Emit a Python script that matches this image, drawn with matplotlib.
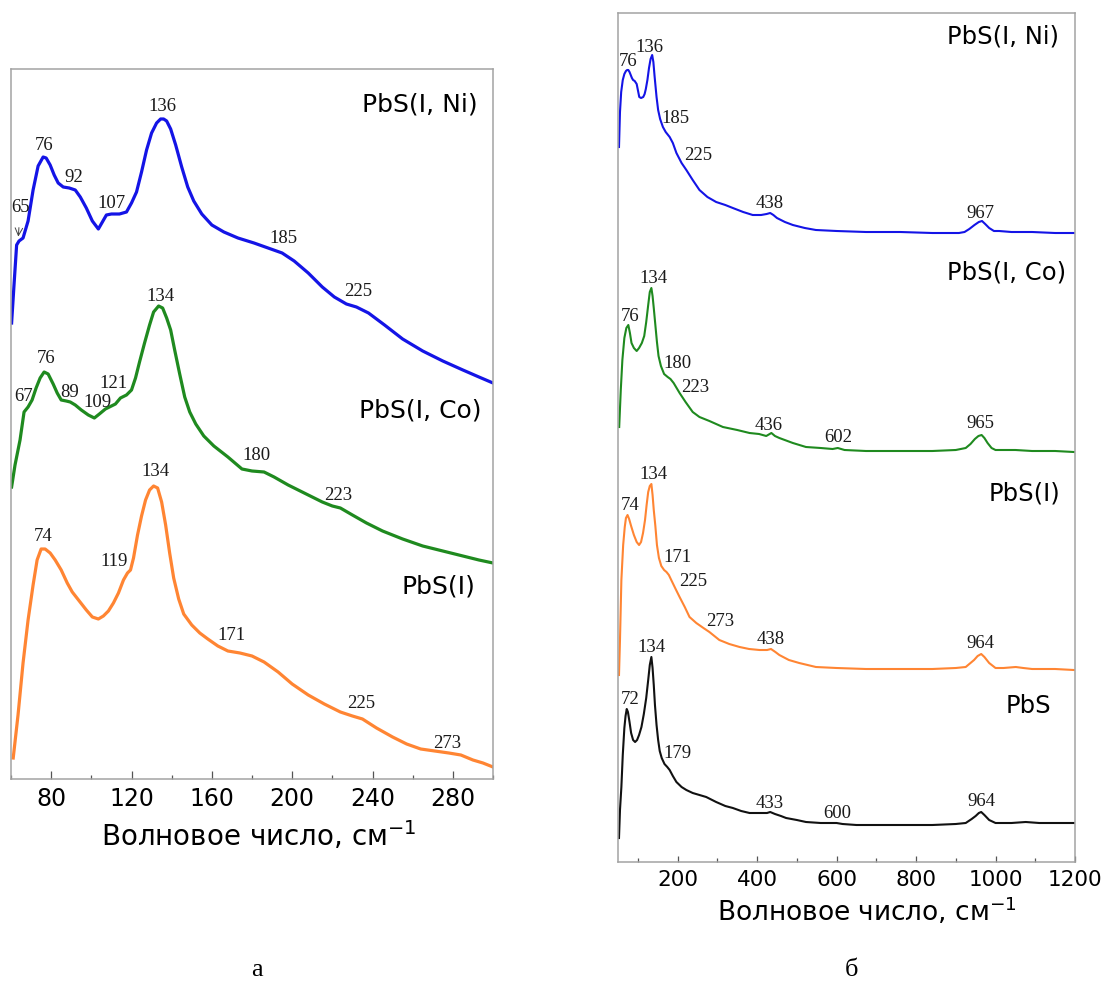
import numpy as np
import matplotlib
matplotlib.use("Agg")
import matplotlib.pyplot as plt
from matplotlib.ticker import MultipleLocator

# ---------------- Panel (а): low-frequency Raman spectra, 60-300 cm^-1 ----------------
ni_a_w = [60.3, 61.5, 62.8, 64.0, 66.0, 68.5, 71.0, 73.5, 76.0, 77.5,
          79.5, 81.5, 83.5, 86.0, 89.0, 92.0, 94.5, 97.5, 100.5, 103.5,
          105.5, 107.5, 110.0, 114.0, 117.5, 120.0, 122.5, 125.0, 127.5, 130.0,
          132.5, 134.5, 136.0, 137.5, 139.5, 142.0, 145.0, 148.0, 151.0, 155.0,
          160.0, 166.0, 173.0, 181.0, 188.0, 195.0, 201.0, 208.0, 215.0, 221.0,
          227.0, 232.0, 238.0, 246.0, 255.0, 265.0, 275.0, 285.0, 293.0, 300.0]
ni_a_i = [456, 494, 534, 538, 541, 558, 589, 613, 622, 621,
          614, 604, 596, 592, 591, 589, 582, 571, 558, 550,
          557, 564, 565, 565, 567, 576, 587, 607, 629, 646,
          656, 660, 660, 658, 650, 634, 612, 592, 578, 565,
          554, 547, 541, 536, 531, 526, 518, 506, 492, 482,
          475, 472, 466, 454, 440, 428, 418, 409, 402, 396]

co_a_w = [60.3, 62, 64.5, 66.5, 68.5, 70.5, 72.5, 74.5, 76.5, 78.5,
          81, 83, 85, 87.5, 89.5, 92, 95, 98.5, 101.5, 104,
          107, 110, 112, 114.5, 117.5, 120, 122, 124, 126.5, 129,
          131, 133.5, 135.5, 137.5, 139.5, 141.5, 144, 146.5, 149, 152,
          156, 161, 168, 175, 180, 186, 191, 198, 207, 215,
          220, 224, 230, 237, 245, 255, 265, 275, 285, 293, 300]
co_a_i = [292, 314, 339, 367, 372, 379, 391, 401, 407, 405,
          395, 386, 379, 378, 377, 374, 369, 364, 361, 365,
          370, 373, 375, 381, 384, 389, 401, 417, 436, 454,
          467, 473, 471, 461, 449, 429, 405, 382, 367, 355,
          343, 333, 322, 310, 308, 307, 302, 294, 285, 277,
          273, 271, 264, 256, 248, 240, 233, 228, 223, 219, 216]

i_a_w = [61.1, 63.5, 66, 68.5, 71, 73, 75, 77, 79.5, 82,
         85, 88, 90.5, 94, 97.5, 100.5, 103.5, 106, 108.5, 111,
         113.5, 116, 118, 119.5, 121, 123, 125, 127, 129, 131,
         133, 135, 137, 139, 141, 143.5, 146, 150, 154, 158,
         163, 168, 174, 180, 186, 193, 200, 208, 216, 224,
         230, 235, 242, 250, 257, 264, 271, 278, 284, 290, 295, 300]
i_a_i = [21, 64, 116, 159, 194, 219, 230, 230, 226, 219,
         209, 196, 187, 178, 169, 162, 160, 163, 168, 176,
         186, 199, 206, 209, 221, 244, 263, 279, 289, 293,
         291, 277, 254, 226, 201, 180, 165, 154, 146, 140,
         133, 128, 126, 123, 117, 107, 95, 84, 75, 67,
         63, 60, 51, 42, 35, 30, 28, 26, 24, 19, 16, 12]

# peak labels: (value, label x, label y)
ni_a_peaks = [(76, 76.6, 633), (92, 91.4, 601), (107, 110.1, 575),
              (136, 135.3, 672), (185, 195.6, 540), (225, 232.9, 487)]
co_a_peaks = [(67, 66.1, 382), (76, 77.4, 420), (89, 89.4, 386), (109, 103.0, 376),
              (121, 110.9, 395), (134, 134.5, 482), (180, 182.3, 323), (223, 223.0, 283)]
i_a_peaks = [(74, 75.8, 242), (119, 111.3, 217), (134, 131.7, 307),
             (171, 169.9, 143), (225, 234.3, 76), (273, 277.0, 36)]

# ---------------- Panel (б): full Raman spectra, 50-1200 cm^-1 ----------------
ni_b_w = [52.5, 55, 58, 62, 66, 70, 73, 76, 79, 82,
          85, 88, 92, 97, 100, 103.5, 108, 113.5, 117, 120,
          124, 128, 132, 136, 139, 142, 147, 151, 156, 163,
          170, 180, 188, 197, 210, 222, 238, 255, 275, 297,
          320, 339, 365, 389, 410, 424, 433, 441, 450, 470,
          490, 520, 548, 600, 674, 760, 841, 908, 922, 934,
          947, 958, 966, 974, 984, 996, 1009, 1040, 1092, 1150, 1197]
ni_b_i = [715, 750, 770, 782, 788, 791, 792, 792, 790, 787,
          784, 782, 781, 778, 772, 765, 764, 765, 768, 773,
          782, 794, 803, 807, 800, 786, 765, 752, 743, 735,
          730, 725, 719, 709, 699, 692, 682, 672, 665, 660,
          657, 654, 650, 647, 647, 648, 649, 647, 644, 640,
          637, 634, 632, 631, 630, 630, 629, 629, 630, 633,
          637, 640, 641, 638, 634, 631, 631, 630, 630, 629, 629]

co_b_w = [53, 57, 61, 66, 71, 76, 80, 84, 90, 97,
          103, 110, 116, 121, 126, 130, 134, 137, 140, 144,
          148, 152, 158, 166, 175, 182, 190, 205, 220, 238,
          255, 280, 314, 350, 381, 405, 423, 436, 445, 456,
          490, 523, 560, 590, 603, 620, 674, 760, 841, 900,
          925, 937, 948, 957, 965, 972, 980, 990, 1000, 1050,
          1092, 1150, 1197]
co_b_i = [435, 472, 502, 524, 534, 537, 529, 519, 514, 511,
          514, 519, 526, 540, 557, 570, 574, 566, 554, 537,
          520, 506, 496, 488, 485, 483, 479, 469, 460, 450,
          445, 441, 435, 432, 429, 428, 426, 429, 426, 424,
          419, 415, 414, 413, 414, 412, 411, 411, 411, 412,
          414, 418, 423, 426, 427, 424, 419, 414, 412, 412,
          411, 411, 410]

i_b_w = [52.5, 55, 58.5, 63, 67, 70, 74, 78, 83, 90,
         97, 103, 108, 113, 118, 122, 126, 130, 134, 137,
         140, 144, 148, 153, 159, 166, 172, 178, 184, 195,
         205, 218, 230, 247, 265, 280, 305, 330, 356, 380,
         406, 425, 435, 446, 456, 480, 506, 548, 600, 674,
         760, 841, 900, 925, 937, 946, 955, 964, 972, 984,
         1000, 1020, 1051, 1070, 1092, 1150, 1197]
i_b_i = [187, 222, 282, 317, 335, 344, 347, 343, 336, 327,
         320, 317, 320, 329, 342, 357, 370, 376, 378, 367,
         352, 336, 317, 304, 296, 292, 290, 287, 282, 273,
         265, 255, 245, 239, 234, 230, 222, 218, 215, 213,
         212, 212, 213, 210, 207, 202, 199, 195, 194, 193,
         193, 193, 194, 195, 199, 202, 206, 208, 205, 199,
         194, 194, 195, 194, 193, 193, 192]

pbs_b_w = [52.5, 55, 58.5, 62, 66, 69, 72, 75, 79, 83,
           88, 93, 98, 103, 109, 115, 121, 126, 130, 134,
           137, 140, 143, 147, 151, 155, 160, 167, 174, 180,
           188, 197, 210, 222, 238, 255, 272, 297, 320, 339,
           360, 381, 410, 425, 433, 445, 460, 473, 500, 523,
           560, 600, 615, 650, 674, 760, 841, 900, 925, 940,
           950, 958, 964, 972, 984, 1000, 1040, 1076, 1110, 1150, 1197]
pbs_b_i = [24, 52, 75, 107, 134, 146, 153, 150, 140, 129,
           122, 120, 122, 127, 135, 148, 164, 182, 197, 205,
           194, 177, 157, 137, 122, 111, 104, 98, 95, 92,
           86, 80, 75, 72, 69, 67, 65, 60, 56, 54,
           51, 49, 49, 49, 50, 48, 46, 44, 42, 40,
           39, 39, 38, 37, 37, 37, 37, 38, 39, 43,
           46, 49, 50, 47, 42, 39, 39, 40, 39, 39, 39]

ni_b_peaks = [(76, 75.1, 801), (136, 127.9, 815), (185, 195.0, 744),
              (225, 251.0, 707), (438, 431.2, 659), (967, 963.0, 649)]
co_b_peaks = [(134, 139.7, 584), (76, 81.2, 546), (180, 199.2, 498), (223, 245.2, 475),
              (436, 429.4, 436), (602, 604.5, 425), (965, 963.0, 438)]
i_b_peaks = [(134, 139.7, 388), (74, 81.2, 357), (171, 200.8, 305), (225, 238.4, 280),
             (273, 307.3, 241), (438, 433.7, 222), (964, 963.0, 219)]
pbs_b_peaks = [(134, 135.4, 214), (72, 81.2, 162), (179, 199.2, 108),
               (433, 431.2, 59), (600, 602.8, 49), (964, 964.6, 61)]

sample_names = ["PbS(I, Ni)", "PbS(I, Co)", "PbS(I)", "PbS"]
colors = {"PbS(I, Ni)": "#1414e6", "PbS(I, Co)": "#1f8a1f",
          "PbS(I)": "#ff8533", "PbS": "#111111"}

xlabel = "Волновое число, см$^{-1}$"
SERIF = "Liberation Serif"
SANS = "DejaVu Sans"
SPINE = "#a3a3a3"

W, H = 1107, 985
fig = plt.figure(figsize=(W / 100, H / 100), dpi=100)
ax_a = fig.add_axes([11 / W, 1 - 779 / H, 482 / W, 710 / H])
ax_b = fig.add_axes([618 / W, 1 - 862 / H, 457 / W, 849 / H])


def style_axes(ax, major, minor, ticksize, majlen, pad):
    for sp in ax.spines.values():
        sp.set_color(SPINE)
        sp.set_linewidth(1.1)
    ax.set_yticks([])
    ax.xaxis.set_major_locator(MultipleLocator(major))
    ax.xaxis.set_minor_locator(MultipleLocator(minor))
    ax.tick_params(axis="x", which="major", direction="in", length=majlen, width=0.9,
                   color="#555555", labelsize=ticksize, pad=pad)
    ax.tick_params(axis="x", which="minor", direction="in", length=3, width=0.9,
                   color="#555555")
    for lab in ax.get_xticklabels():
        lab.set_fontfamily(SANS)


def label_peaks(ax, peaks, size):
    for val, x, y in peaks:
        ax.text(x, y, str(val), ha="center", va="center", fontsize=size,
                family=SERIF, color="#1a1a1a")


# ---- panel а ----
ax_a.plot(ni_a_w, ni_a_i, color=colors["PbS(I, Ni)"], lw=2.3, solid_joinstyle="round")
ax_a.plot(co_a_w, co_a_i, color=colors["PbS(I, Co)"], lw=2.3, solid_joinstyle="round")
ax_a.plot(i_a_w, i_a_i, color=colors["PbS(I)"], lw=2.3, solid_joinstyle="round")
ax_a.set_xlim(60, 300)
ax_a.set_ylim(0, 710)
style_axes(ax_a, 40, 20, 17, 6, 5.5)

label_peaks(ax_a, ni_a_peaks, 13.5)
label_peaks(ax_a, co_a_peaks, 13.5)
label_peaks(ax_a, i_a_peaks, 13.5)
ax_a.annotate("65", xy=(63.6, 541), xytext=(64.6, 571), ha="center", va="center",
              fontsize=13.5, family=SERIF, color="#1a1a1a",
              arrowprops=dict(arrowstyle="->", lw=0.7, color="#444444",
                              shrinkA=6, shrinkB=1))

ax_a.text(292.5, 674, sample_names[0], ha="right", va="center", fontsize=18, family=SANS)
ax_a.text(294.5, 368, sample_names[1], ha="right", va="center", fontsize=18, family=SANS)
ax_a.text(291.0, 192, sample_names[2], ha="right", va="center", fontsize=18, family=SANS)

ax_a.set_xlabel(xlabel, fontsize=20, family=SANS)
ax_a.xaxis.set_label_coords(0.5145, -0.056)

# ---- panel б ----
ax_b.plot(ni_b_w, ni_b_i, color=colors["PbS(I, Ni)"], lw=1.5, solid_joinstyle="round")
ax_b.plot(co_b_w, co_b_i, color=colors["PbS(I, Co)"], lw=1.5, solid_joinstyle="round")
ax_b.plot(i_b_w, i_b_i, color=colors["PbS(I)"], lw=1.5, solid_joinstyle="round")
ax_b.plot(pbs_b_w, pbs_b_i, color=colors["PbS"], lw=1.5, solid_joinstyle="round")
ax_b.set_xlim(50, 1200)
ax_b.set_ylim(0, 849)
style_axes(ax_b, 200, 100, 15.5, 4.5, 5.5)

label_peaks(ax_b, ni_b_peaks, 13.5)
label_peaks(ax_b, co_b_peaks, 13.5)
label_peaks(ax_b, i_b_peaks, 13.5)
label_peaks(ax_b, pbs_b_peaks, 13.5)

ax_b.text(1159.8, 826, sample_names[0], ha="right", va="center", fontsize=17.5, family=SANS)
ax_b.text(1176.6, 590, sample_names[1], ha="right", va="center", fontsize=17.5, family=SANS)
ax_b.text(1164.0, 369, sample_names[2], ha="right", va="center", fontsize=17.5, family=SANS)
ax_b.text(1140.6, 156, sample_names[3], ha="right", va="center", fontsize=17.5, family=SANS)

ax_b.set_xlabel(xlabel, fontsize=19, family=SANS)
ax_b.xaxis.set_label_coords(0.545, -0.039)

# panel letters
fig.text(257 / W, 1 - 970 / H, "а", ha="center", va="center", fontsize=19, family=SERIF)
fig.text(851 / W, 1 - 970 / H, "б", ha="center", va="center", fontsize=19, family=SERIF)

fig.savefig("out.png", dpi=100, facecolor="white")
